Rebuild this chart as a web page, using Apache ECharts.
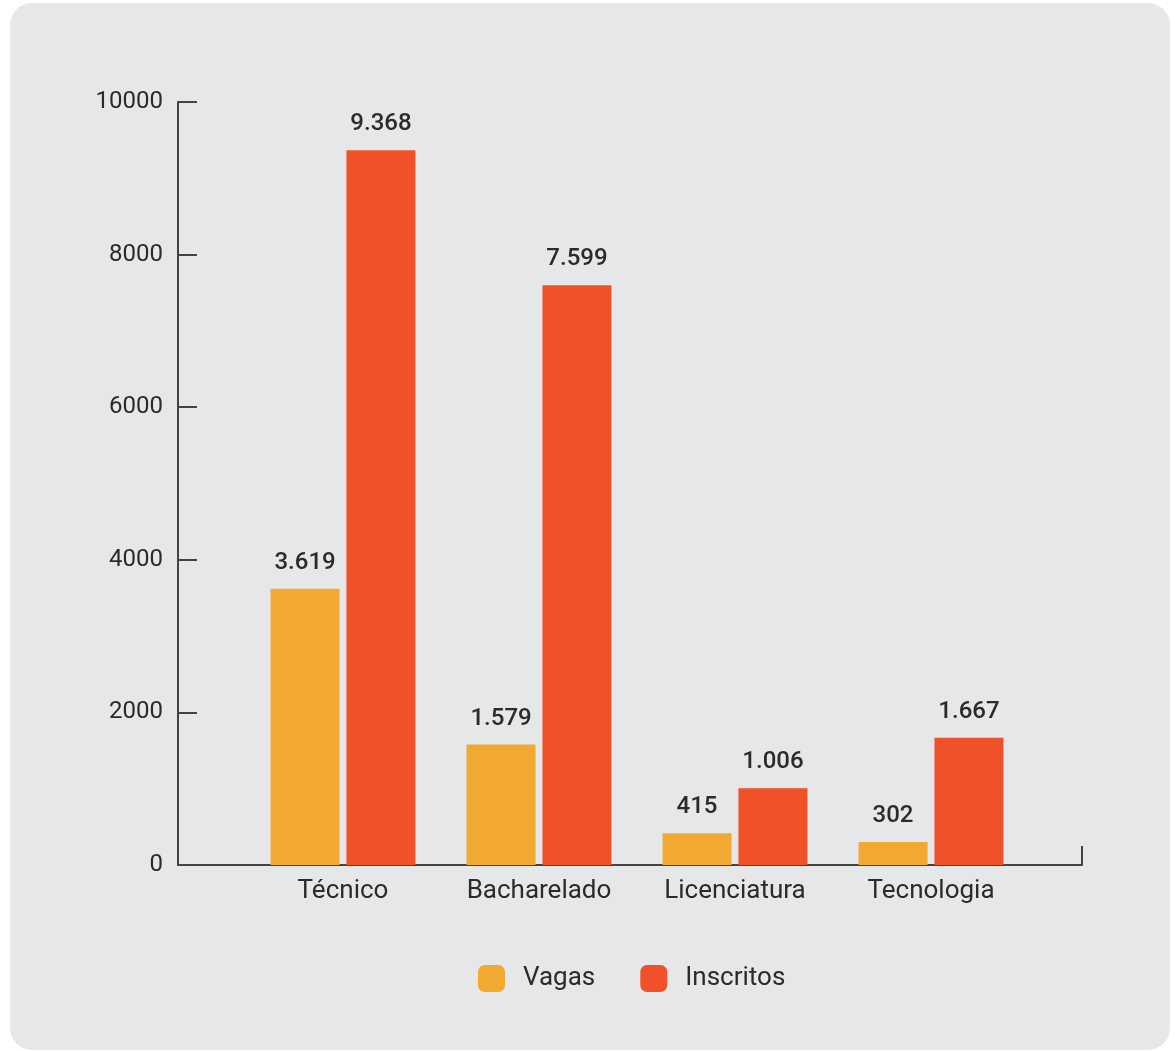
<!DOCTYPE html>
<html>
<head>
<meta charset="utf-8">
<script src="https://cdn.jsdelivr.net/npm/echarts@6/dist/echarts.min.js"></script>
<style>
  html, body { margin: 0; padding: 0; background: #ffffff; }
  #panel { position: absolute; left: 10px; top: 3px; width: 1160px; height: 1047px; border-radius: 22px; background: #e6e7e9; }
  #chart { position: absolute; left: 0; top: 0; width: 1176px; height: 1051px; }
</style>
</head>
<body>
<div id="panel"></div>
<div id="chart"></div>
<script>
const categories = ['Técnico', 'Bacharelado', 'Licenciatura', 'Tecnologia'];
const vagas = [3619, 1579, 415, 302];
const inscritos = [9368, 7599, 1006, 1667];
const seriesNames = ['Vagas', 'Inscritos'];
const yTicks = { min: 0, max: 10000, interval: 2000 };

const FONT = 'Roboto';
const TXT = '#2b2b2b';
const fmt = v => String(v).replace(/\B(?=(\d{3})+(?!\d))/g, '.');

const chart = echarts.init(document.getElementById('chart'), null, { renderer: 'canvas' });
const labelStyle = {
  show: true, position: 'top', distance: 14,
  fontFamily: FONT, fontSize: 24, fontWeight: 500, color: TXT,
  formatter: p => fmt(p.value)
};
chart.setOption({
  backgroundColor: 'transparent',
  textStyle: { fontFamily: FONT },
  legend: {
    data: seriesNames,
    left: 478, top: 965, padding: 0,
    itemWidth: 27, itemHeight: 27, itemGap: 45,
    icon: 'roundRect',
    textStyle: { fontFamily: FONT, fontSize: 26, color: TXT, padding: [0, 0, 0, 13] }
  },
  grid: [
    { left: 178, right: 94, top: 102, bottom: 186, containLabel: false },
    { left: 245, width: 784, top: 102, bottom: 186, containLabel: false }
  ],
  xAxis: [
    {
      gridIndex: 0, type: 'value', min: 0, max: 1, interval: 1,
      axisLine: { show: true, lineStyle: { color: '#444', width: 2 } },
      axisTick: { show: true, inside: true, length: 19, lineStyle: { color: '#444', width: 2 } },
      axisLabel: { show: false }, splitLine: { show: false }
    },
    {
      gridIndex: 1, type: 'category', data: categories,
      axisLine: { show: false }, axisTick: { show: false }, splitLine: { show: false },
      axisLabel: { margin: 13, fontFamily: FONT, fontSize: 26, color: TXT }
    }
  ],
  yAxis: [
    {
      gridIndex: 0, type: 'value', min: yTicks.min, max: yTicks.max, interval: yTicks.interval,
      axisLine: { show: true, lineStyle: { color: '#444', width: 2 } },
      axisTick: { show: true, inside: true, length: 19, lineStyle: { color: '#444', width: 2 } },
      axisLabel: { margin: 15, fontFamily: FONT, fontSize: 24, color: TXT, formatter: v => String(v) },
      splitLine: { show: false }
    },
    {
      gridIndex: 1, type: 'value', min: yTicks.min, max: yTicks.max, show: false
    }
  ],
  series: [
    {
      name: seriesNames[0], type: 'bar', xAxisIndex: 1, yAxisIndex: 1,
      data: vagas, barWidth: 69, barGap: '10%',
      itemStyle: { color: '#f1a932' }, label: labelStyle
    },
    {
      name: seriesNames[1], type: 'bar', xAxisIndex: 1, yAxisIndex: 1,
      data: inscritos, barWidth: 69, barGap: '10%',
      itemStyle: { color: '#ef5129' }, label: labelStyle
    }
  ]
});
</script>
</body>
</html>
